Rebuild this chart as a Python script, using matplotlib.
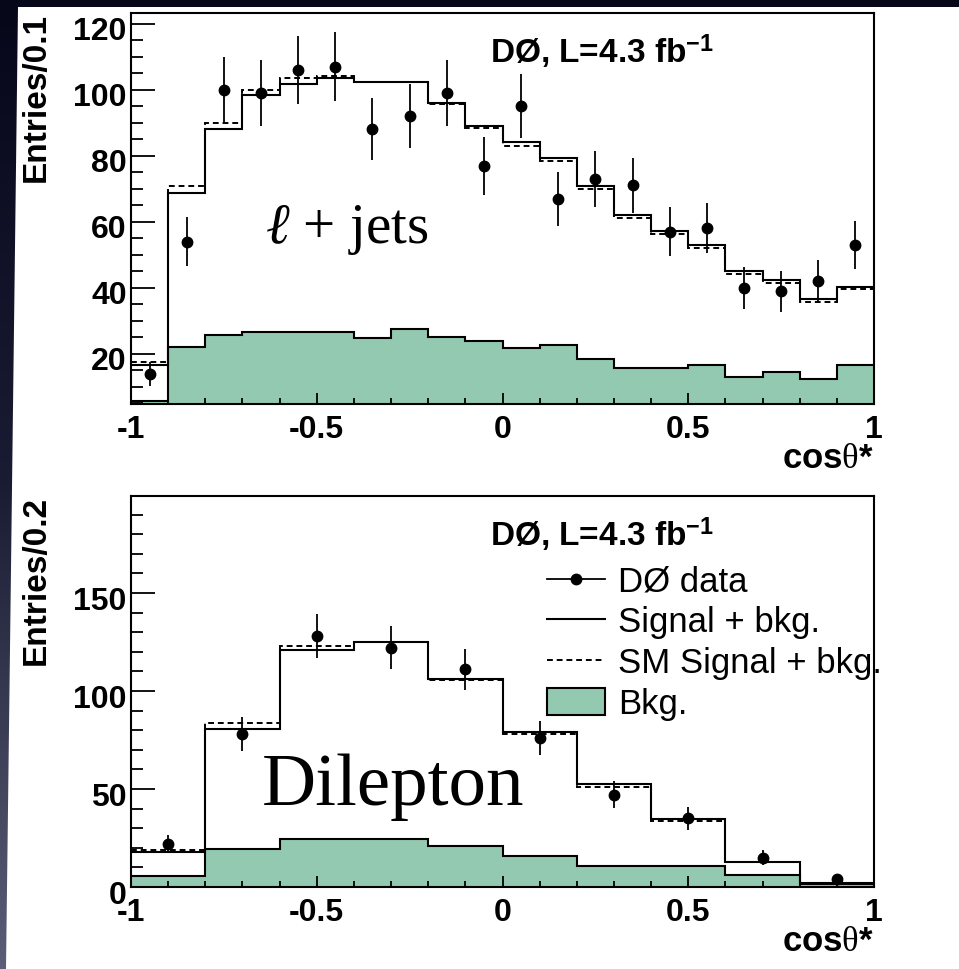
import numpy as np
import matplotlib
matplotlib.use("Agg")
import matplotlib.pyplot as plt
from matplotlib.ticker import MultipleLocator, FixedLocator, FuncFormatter
from matplotlib.lines import Line2D
from matplotlib.patches import Patch, Polygon
from matplotlib.colors import LinearSegmentedColormap
from matplotlib.transforms import ScaledTranslation

plt.rcParams['font.family'] = ['Liberation Sans', 'DejaVu Sans']
plt.rcParams['font.weight'] = 'bold'
plt.rcParams['axes.labelweight'] = 'bold'
plt.rcParams['axes.unicode_minus'] = False
plt.rcParams['mathtext.fontset'] = 'custom'
plt.rcParams['mathtext.rm'] = 'Liberation Serif:weight=normal'
plt.rcParams['mathtext.it'] = 'Liberation Serif:italic:weight=normal'
plt.rcParams['mathtext.bf'] = 'Liberation Sans:bold'

# l+jets channel, 20 bins of 0.1 in cos(theta*)
lj_edges = np.round(np.linspace(-1, 1, 21), 2)
lj_data = [14, 54, 100, 99, 106, 107, 88, 92, 99, 77, 95, 67, 73, 71, 57, 58, 40, 39, 42, 53]
lj_err = [3.7, 7.3, 10.0, 9.9, 10.3, 10.3, 9.4, 9.6, 9.9, 8.8, 9.7, 8.2, 8.5, 8.4, 7.5, 7.6, 6.3, 6.2, 6.5, 7.3]
lj_sig_bkg = [16.7, 68.7, 88.2, 98.3, 101.7, 103.5, 102.4, 102.4, 95.9, 89.1,
              84.0, 79.4, 70.8, 62.0, 57.2, 53.1, 45.1, 42.4, 36.6, 40.3]
lj_sm = [17.5, 70.8, 90.0, 100.0, 103.5, 104.1, 102.4, 102.4, 95.6, 88.5,
         83.0, 78.4, 69.9, 61.2, 56.2, 52.1, 44.3, 41.5, 35.8, 39.7]
lj_bkg = [5.6, 22.0, 25.6, 26.6, 26.6, 26.5, 24.9, 27.6, 25.0, 23.9,
          21.9, 22.8, 18.4, 15.8, 15.8, 16.5, 13.1, 14.4, 12.3, 16.5]

# dilepton channel, 10 bins of 0.2
dl_edges = np.round(np.linspace(-1, 1, 11), 2)
dl_data = [22, 78, 128, 122, 111, 76, 47, 35, 15, 4]
dl_err = [4.7, 8.8, 11.3, 11.0, 10.5, 8.7, 6.9, 5.9, 3.9, 2.0]
dl_sig_bkg = [17.7, 80.8, 121.1, 125.2, 106.0, 79.3, 52.4, 34.5, 12.8, 1.8]
dl_sm = [19.0, 83.7, 123.0, 125.0, 105.4, 77.9, 51.0, 33.7, 12.6, 1.8]
dl_bkg = [5.6, 19.4, 24.5, 24.5, 20.9, 16.0, 10.5, 10.5, 6.0, 1.3]

x_ticks = [-1, -0.5, 0, 0.5, 1]
green = '#93c9b1'

fig = plt.figure(figsize=(9.59, 9.69), dpi=100)

# dark slide border behind the white page
bg = fig.add_axes([0, 0, 1, 1], zorder=-10)
grad = np.linspace(0, 1, 256).reshape(-1, 1)
cmap = LinearSegmentedColormap.from_list('edge', ['#07071a', '#1a1c33', '#5b5e76'])
bg.imshow(grad, extent=[0, 959, 969, 0], aspect='auto', cmap=cmap)
bg.add_patch(Polygon([[18, 7], [959, 7], [959, 969], [6, 969]], closed=True,
                     facecolor='white', edgecolor='none'))
bg.set_xlim(0, 959)
bg.set_ylim(969, 0)
bg.axis('off')


def draw_panel(ax, edges, data, err, sig_bkg, sm, bkg, ylim, ymajor, yminor, ylabel):
    centers = (edges[:-1] + edges[1:]) / 2
    ax.stairs(bkg, edges, fill=True, color=green, zorder=1)
    ax.stairs(bkg, edges, baseline=None, color='k', lw=1.5, zorder=2)
    ax.stairs(sm, edges, baseline=None, color='k', lw=1.4, ls=(0, (3, 2)), zorder=3)
    ax.stairs(sig_bkg, edges, baseline=None, color='k', lw=1.5, zorder=4)
    ax.errorbar(centers, data, yerr=err, fmt='o', color='k', ms=7.5,
                elinewidth=1.3, capsize=0, zorder=5)

    ax.set_xlim(-1, 1)
    ax.set_ylim(*ylim)
    ax.xaxis.set_major_locator(FixedLocator(x_ticks))
    ax.xaxis.set_minor_locator(MultipleLocator(0.1))
    ax.yaxis.set_major_locator(MultipleLocator(ymajor))
    ax.yaxis.set_minor_locator(MultipleLocator(yminor))
    fmt = FuncFormatter(lambda v, p: f'{v:g}')
    ax.xaxis.set_major_formatter(fmt)
    ax.yaxis.set_major_formatter(fmt)
    ax.tick_params(which='both', direction='in', top=False, right=False,
                   labelsize=23, width=1.3, color='k')
    ax.tick_params(axis='y', which='major', length=17, pad=3)
    ax.tick_params(axis='y', which='minor', length=8.5)
    ax.tick_params(axis='x', which='major', length=8, pad=8)
    ax.tick_params(axis='x', which='minor', length=4.5)
    for s in ax.spines.values():
        s.set_linewidth(1.5)

    ax.set_ylabel(ylabel, fontsize=24, fontweight='bold', loc='top')
    ax.yaxis.set_label_coords(-0.107, 1.0)
    ax.set_xlabel(r'cos$\mathrm{\theta}$*', fontsize=25, loc='right')
    ax.xaxis.set_label_coords(1.0, -0.098)
    ax.xaxis.label.set_verticalalignment('top')

    ax.text(0.483, 0.872, r'DØ, L=4.3 fb$^{\mathbf{-1}}$', transform=ax.transAxes,
            fontsize=24, ha='left', va='baseline')

    fig.canvas.draw()
    shift = ScaledTranslation(0, -5 / 100, fig.dpi_scale_trans)
    for t in ax.yaxis.get_major_ticks():
        t.label1.set_transform(t.label1.get_transform() + shift)


ax1 = fig.add_axes([0.1366, 0.5831, 0.7748, 0.4035])
draw_panel(ax1, lj_edges, lj_data, lj_err, lj_sig_bkg, lj_sm, lj_bkg,
           (4.85, 123.2), 20, 5, 'Entries/0.1')
ax1.text(0.180, 0.412, r'$\ell$ + jets', transform=ax1.transAxes,
         fontsize=41, family='Liberation Serif', fontweight='normal', va='baseline')

ax2 = fig.add_axes([0.1366, 0.0846, 0.7748, 0.4035])
draw_panel(ax2, dl_edges, dl_data, dl_err, dl_sig_bkg, dl_sm, dl_bkg,
           (0, 199.5), 50, 10, 'Entries/0.2')
ax2.text(0.176, 0.21, 'Dilepton', transform=ax2.transAxes,
         fontsize=54, family='Liberation Serif', fontweight='normal', va='baseline')

handles = [
    Line2D([], [], color='k', lw=1.3, marker='o', ms=7.5),
    Line2D([], [], color='k', lw=1.5),
    Line2D([], [], color='k', lw=1.4, ls=(0, (3, 2))),
    Patch(facecolor=green, edgecolor='k', lw=1.5),
]
labels = ['DØ data', 'Signal + bkg.', 'SM Signal + bkg.', 'Bkg.']
ax2.legend(handles, labels, loc='upper left', bbox_to_anchor=(0.56, 0.822),
           frameon=False, borderpad=0, borderaxespad=0,
           prop={'size': 25, 'weight': 'normal'}, handlelength=1.67,
           handleheight=0.84, handletextpad=0.37, labelspacing=0.22)

fig.savefig('out.png', dpi=100)
